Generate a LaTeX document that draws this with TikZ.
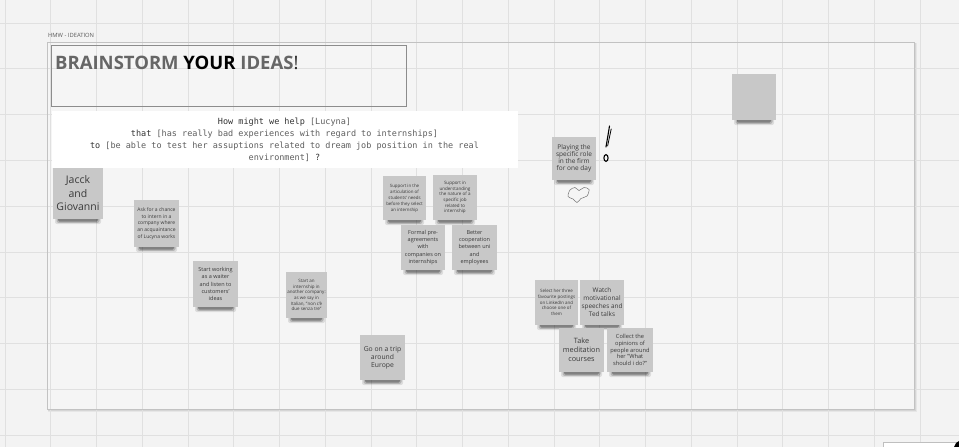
\documentclass[tikz,border=0pt]{standalone}
\usepackage{fontspec}
\setmainfont{Open Sans}
\setmonofont{DejaVu Sans Mono}
\usetikzlibrary{calc}

\definecolor{pagebg}{HTML}{F3F3F3}
\definecolor{gridln}{HTML}{E0E0E0}
\definecolor{framebg}{HTML}{F5F5F5}
\definecolor{frameln}{HTML}{C2C2C2}
\definecolor{notefill}{HTML}{C8C8C8}
\definecolor{notetext}{HTML}{3A3A3A}
\definecolor{titlegray}{HTML}{666666}
\definecolor{hmwkey}{HTML}{333333}
\definecolor{hmwfill}{HTML}{5E5E5E}

\tikzset{
  note/.style={fill=notefill, text=notetext, align=center, inner sep=1.5pt},
  gridline/.style={gridln, line width=0.8},
  penmark/.style={black, line cap=round},
}

% sticky note: name, x, y, width, height, font, text
\newcommand\sticky[7]{%
  \fill[black,opacity=0.10,rounded corners=2] ({#2-#4/2+2},{#3+#5/2-8}) rectangle ({#2+#4/2-2},{#3+#5/2+5});
  \fill[black,opacity=0.18,rounded corners=2] ({#2-#4/2+3.5},{#3+#5/2-8}) rectangle ({#2+#4/2-3.5},{#3+#5/2+3.8});
  \fill[black,opacity=0.28,rounded corners=1.5] ({#2-#4/2+5},{#3+#5/2-8}) rectangle ({#2+#4/2-5},{#3+#5/2+2.6});
  \node[note, minimum width=#4, minimum height=#5, font={#6}] (#1) at (#2,#3) {#7};
}
\newcommand\fs[2]{\fontsize{#1}{#2}\selectfont}

\begin{document}
\begin{tikzpicture}[x=1pt,y=-1pt]
\useasboundingbox (0,0) rectangle (959,447);
\fill[pagebg] (0,0) rectangle (959,447);

% board frame with soft shadow
\fill[black,opacity=0.05] (48,43) rectangle (916.5,411.5);
\fill[black,opacity=0.07] (48,43) rectangle (915.5,410.5);
\fill[framebg] (47,42) rectangle (914,409);

% canvas grid
\foreach \i in {0,...,20} \draw[gridline] ({5+45.75*\i},0) -- ({5+45.75*\i},447);
\foreach \j in {0,...,9} \draw[gridline] (0,{23+45.8*\j}) -- (959,{23+45.8*\j});

\draw[frameln, line width=0.9] (47,42) rectangle (914,409);

% frame label
\node[anchor=base west, inner sep=0, font=\fs{5.8}{7}, text=black!65] (label) at (48,37) {HMW - IDEATION};

% title block
\node[draw=black!45, line width=0.8, minimum width=355, minimum height=61, anchor=north west, inner sep=0] (titlebox) at (51,45) {};
\node[anchor=base west, inner sep=0, font=\fs{18.5}{22}\bfseries, text=titlegray] (title) at (55,69)
  {BRAINSTORM \textcolor{black}{YOUR} IDEAS\textcolor{black!85}{\mdseries!}};

% how-might-we statement
\node[fill=white, minimum width=466, minimum height=57, anchor=north west, inner sep=0] (hmwbox) at (51.5,110.5) {};
\node[align=center, inner sep=0, font=\ttfamily\fs{8.5}{12}, text=hmwkey] (hmw) at (284.5,139.5)
  {How might we help \textcolor{hmwfill}{[Lucyna]}\\
   that \textcolor{hmwfill}{[has really bad experiences with regard to internships]}\\
   to \textcolor{hmwfill}{[be able to test her assuptions related to dream job position in the real}\\
   \textcolor{hmwfill}{environment]} ?};

% sticky notes
\sticky{jacck}{78}{193.5}{50}{51}{\fs{10.5}{13.5}}{Jacck\\and\\Giovanni}
\sticky{ask}{156.5}{223.5}{45}{47}{\fs{5}{6.7}}{Ask for a chance\\to intern in a\\company where\\an acquaintance\\of Lucyna works}
\sticky{waiter}{215.5}{284}{45}{46}{\fs{5.5}{7.3}}{Start working\\as a waiter\\and listen to\\customers'\\ideas}
\sticky{another}{306.5}{295}{41}{46}{\fs{4.5}{5.7}}{Start an\\internship in\\another company:\\as we say in\\Italian, "non c'è\\due senza tre"}
\sticky{articulate}{404.5}{198}{43}{44}{\fs{4.4}{6}}{Support in the\\articulation of\\students' needs\\before they select\\an internship}
\sticky{nature}{455}{197.5}{44}{45}{\fs{4.5}{5.7}}{Support in\\understanding\\the nature of a\\specific job\\related to\\internship}
\sticky{formal}{423}{247.5}{44}{45}{\fs{5.5}{7.4}}{Formal pre-\\agreements\\with\\companies on\\internships}
\sticky{better}{474.5}{247.5}{45}{45}{\fs{5.5}{7.4}}{Better\\cooperation\\between uni\\and\\employees}
\sticky{trip}{382.5}{357.5}{45}{45}{\fs{6.8}{8}}{Go on a trip\\around\\Europe}
\sticky{role}{574}{158.5}{44}{43}{\fs{6.5}{7.2}}{Playing the\\specific role\\in the firm\\for one day}
\sticky{linkedin}{556.5}{302.5}{43}{45}{\fs{4.45}{5.7}}{Select her three\\favourite postings\\on LinkedIn and\\choose one of\\them}
\sticky{talks}{602}{302.5}{44}{45}{\fs{6.4}{8}}{Watch\\motivational\\speeches and\\Ted talks}
\sticky{meditate}{581.5}{350}{45}{44}{\fs{7.3}{9}}{Take\\meditation\\courses}
\sticky{opinions}{630}{350}{46}{44}{\fs{5.7}{6.6}}{Collect the\\opinions of\\people around\\her "What\\should i do?"}
\sticky{blank}{754}{97}{44}{46}{\fs{6}{7}}{}

% hand-drawn marks beside the role note
\draw[penmark, line width=1.1] (609.5,126) .. controls (608.2,134) .. (606,147);
\draw[penmark, line width=0.8] (611.2,129) .. controls (609.6,137) .. (607.6,146);
\draw[penmark, line width=1.1] (606,158) ellipse (2.1 and 3.4);
\draw[black!55, line width=0.5] plot[smooth cycle] coordinates
  {(570,190) (575,187.5) (579,190.5) (584,187.5) (589,189.5) (587,196) (581,198.5) (577,202.5) (573,199) (568,196.5)};

% corner panel
\node[fill=white, draw=black!25, line width=0.6, minimum width=80, minimum height=10, anchor=north west, inner sep=0] (panel) at (883,442) {};
\fill[black] (956,443) -- (959,441) -- (959,447) -- (954,447) -- cycle;
\end{tikzpicture}
\end{document}
